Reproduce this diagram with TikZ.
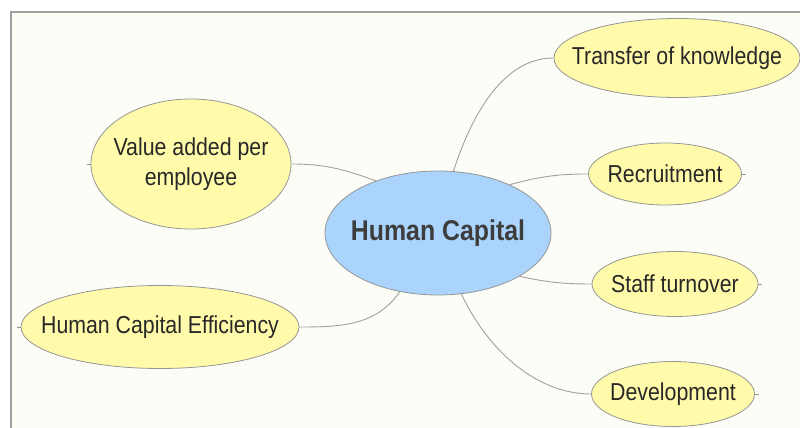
\documentclass[tikz,border=0pt]{standalone}
\usepackage{fontspec}
\setmainfont[FakeStretch=0.87]{Liberation Sans}
\usetikzlibrary{shapes.geometric}
\definecolor{bgc}{RGB}{253,253,247}
\definecolor{framec}{RGB}{160,160,160}
\definecolor{yel}{RGB}{255,251,170}
\definecolor{blu}{RGB}{170,212,252}
\definecolor{edgec}{RGB}{150,150,150}
\definecolor{linkc}{RGB}{160,160,160}
\definecolor{txt}{RGB}{40,40,40}
\tikzset{
  topic/.style={ellipse, draw=edgec, line width=0.8pt, fill=yel, inner sep=0pt},
  central/.style={ellipse, draw=edgec, line width=0.8pt, fill=blu, inner sep=0pt},
  topictext/.style={text=txt, align=center, inner sep=0pt, font=\fontsize{24.5}{30}\selectfont},
  centraltext/.style={text=txt!90!white, inner sep=0pt, font=\fontsize{28.6}{34}\selectfont\bfseries},
  link/.style={draw=linkc, line width=0.9pt},
  stub/.style={draw=edgec, line width=0.9pt}
}
\begin{document}
\begin{tikzpicture}[x=1pt,y=1pt]
\useasboundingbox (0,0) rectangle (800,428);
\fill[white] (0,0) rectangle (800,428);
\fill[bgc] (11,0) rectangle (800,416);
\draw[framec, line width=1.5pt] (11,0) -- (11,416) -- (800,416);

\node[central, minimum width=226pt, minimum height=124pt] (hc) at (438,195) {};
\node[topic, minimum width=200pt, minimum height=130pt] (va) at (191,264) {};
\node[topic, minimum width=278pt, minimum height=83pt] (hce) at (160,101) {};
\node[topic, minimum width=246pt, minimum height=79pt] (tk) at (677,370) {};
\node[topic, minimum width=153pt, minimum height=62pt] (rec) at (665,254) {};
\node[topic, minimum width=166pt, minimum height=65pt] (st) at (675,144) {};
\node[topic, minimum width=163pt, minimum height=65pt] (dev) at (673,34) {};

\node[centraltext] (hct) at (hc) {Human Capital};
\node[topictext] (vat) at (va) {Value added per\\employee};
\node[topictext] (hcet) at (hce) {Human Capital Efficiency};
\node[topictext] (tkt) at (tk) {Transfer of knowledge};
\node[topictext] (rect) at (rec) {Recruitment};
\node[topictext] (stt) at (st) {Staff turnover};
\node[topictext] (devt) at (dev) {Development};

\coordinate (vas) at ([xshift=-4pt]va.west);
\coordinate (hces) at ([xshift=-4pt]hce.west);
\coordinate (recs) at ([xshift=4pt]rec.east);
\coordinate (sts) at ([xshift=4pt]st.east);
\coordinate (devs) at ([xshift=4pt]dev.east);
\draw[stub] (va.west) -- (vas);
\draw[stub] (hce.west) -- (hces);
\draw[stub] (rec.east) -- (recs);
\draw[stub] (st.east) -- (sts);
\draw[stub] (dev.east) -- (devs);

\draw[link] (hc.76) to[out=72, in=180, looseness=0.9] (tk.west);
\draw[link] (hc.34) to[out=15, in=180] (rec.west);
\draw[link] (hc.-28) to[out=-12, in=180] (st.west);
\draw[link] (hc.-69) to[out=-65, in=180, looseness=0.9] (dev.west);
\draw[link] (hc.140) to[out=160, in=0] (va.east);
\draw[link] (hc.237) to[out=235, in=0] (hce.east);
\end{tikzpicture}
\end{document}
